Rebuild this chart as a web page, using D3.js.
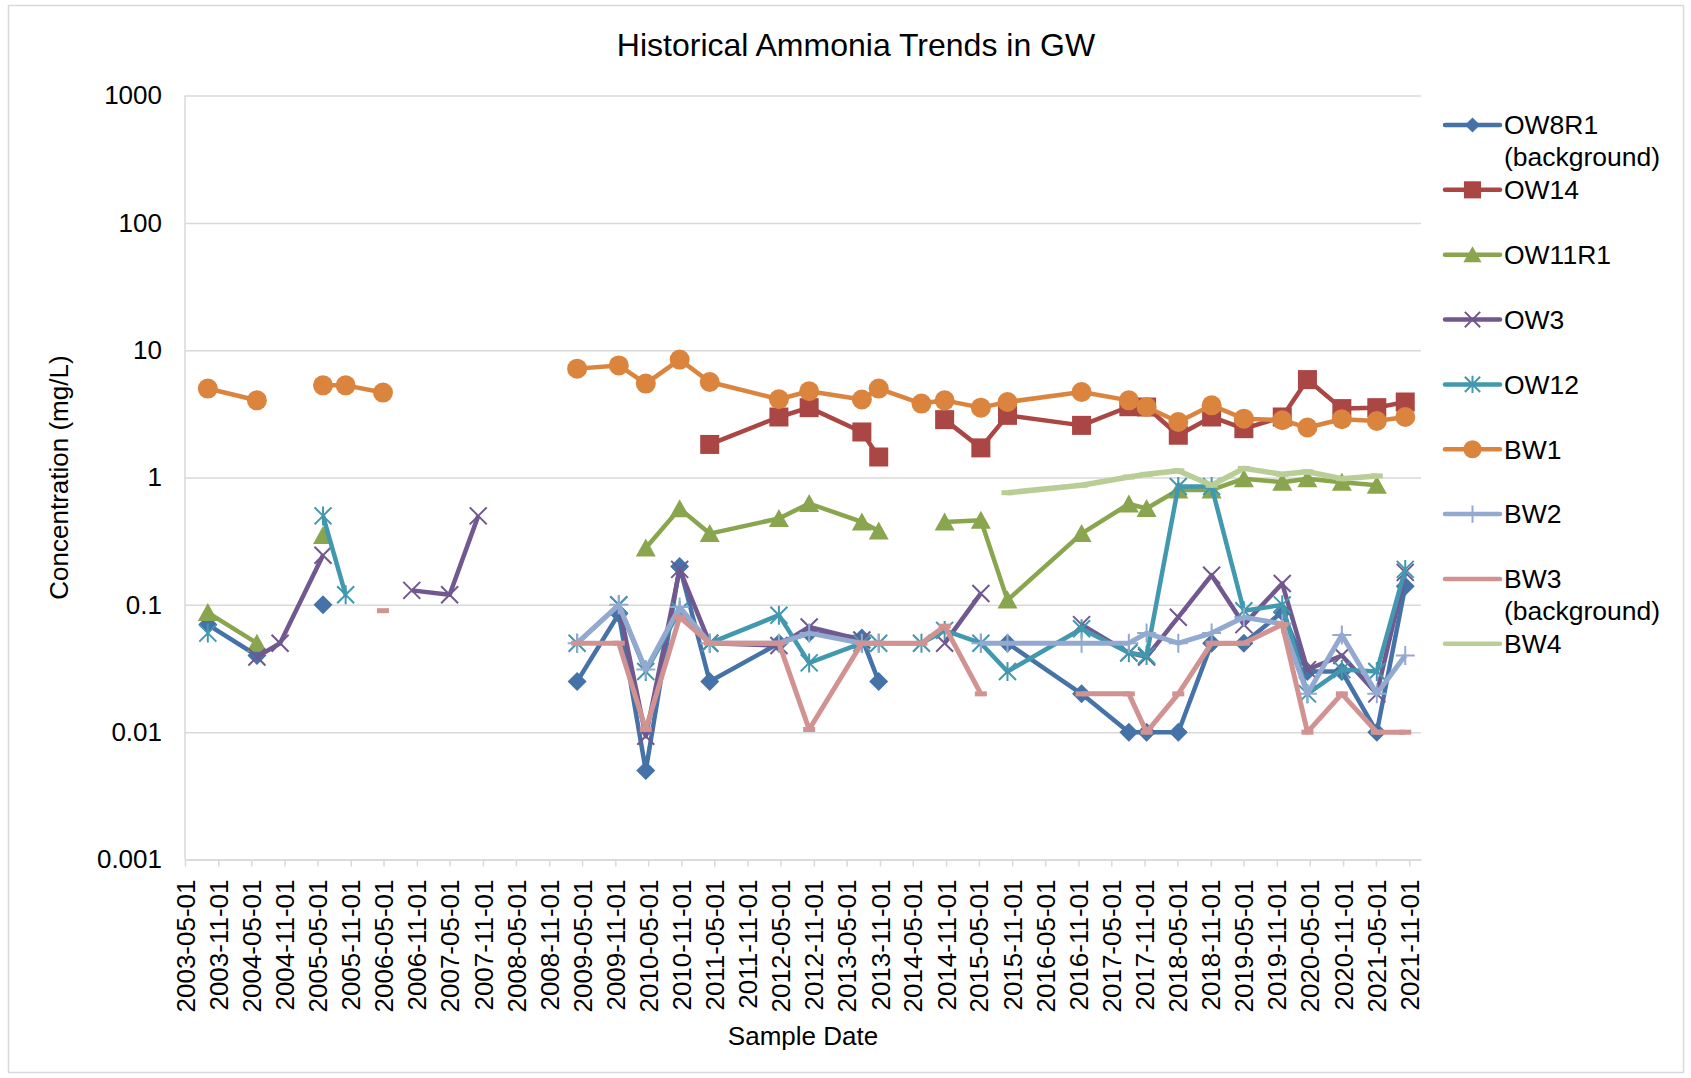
<!DOCTYPE html>
<html>
<head>
<meta charset="utf-8">
<script src="https://cdn.jsdelivr.net/npm/d3@7"></script>
<style>
  body { margin: 0; background: #fff; }
  svg { display: block; font-family: "Liberation Sans", Arial, sans-serif; }
</style>
</head>
<body>
<svg id="chart" width="1691" height="1078"></svg>
<script>
// ***** Data *****
const sampleDates = [
  "2003-09-04", "2004-06-01", "2004-10-07", "2005-06-01", "2005-10-04",
  "2006-04-28", "2006-10-04", "2007-05-01", "2007-10-06", "2009-04-04",
  "2009-11-20", "2010-04-18", "2010-10-22", "2011-04-06", "2012-04-22",
  "2012-10-06", "2013-07-24", "2013-10-25", "2014-06-18", "2014-10-24",
  "2015-05-12", "2015-10-06", "2016-11-18", "2017-08-06", "2017-11-12",
  "2018-05-06", "2018-11-06", "2019-05-03", "2019-12-01", "2020-04-18",
  "2020-10-25", "2021-05-06", "2021-10-10"
];

const ow8r1 = [0.07, 0.04, null, 0.1, null, null, null, null, null, 0.025,
  0.085, 0.005, 0.2, 0.025, 0.05, 0.06, 0.055, 0.025, null, null,
  null, 0.05, 0.02, 0.01, 0.01, 0.01, 0.05, 0.05, 0.088, 0.03,
  0.03, 0.01, 0.14];
const ow14 = [null, null, null, null, null, null, null, null, null, null,
  null, null, null, 1.82, 2.99, 3.54, 2.28, 1.45, null, 2.85,
  1.71, 3.08, 2.57, 3.6, 3.58, 2.15, 2.99, 2.42, 2.99, 5.88,
  3.48, 3.54, 3.92];
const ow11r1 = [0.087, 0.05, null, 0.35, null, null, null, null, null, null,
  null, 0.28, 0.57, 0.363, 0.477, 0.625, 0.448, 0.381, null, 0.448,
  0.462, 0.109, 0.363, 0.62, 0.571, 0.8, 0.8, 0.98, 0.92, 0.98,
  0.92, 0.87, null];
const ow3 = [null, 0.039, 0.05, 0.245, null, null, 0.13, 0.12, 0.5, null,
  0.1, 0.0093, 0.19, 0.05, 0.048, 0.067, 0.053, null, null, 0.05,
  0.123, null, 0.07, 0.042, 0.039, 0.08, 0.171, 0.07, 0.147, 0.031,
  0.04, 0.02, 0.18];
const ow12 = [0.06, null, null, 0.5, 0.12, null, null, null, null, 0.05,
  0.1, 0.03, 0.09, 0.05, 0.083, 0.035, 0.05, 0.05, 0.05, 0.063,
  0.05, 0.03, 0.065, 0.042, 0.04, 0.85, 0.85, 0.09, 0.1, 0.02,
  0.031, 0.03, 0.19];
const bw1 = [5.0, 4.04, null, 5.3, 5.3, 4.65, null, null, null, 7.17,
  7.6, 5.47, 8.44, 5.63, 4.12, 4.76, 4.1, 5.0, 3.81, 4.04,
  3.54, 3.92, 4.7, 4.04, 3.58, 2.73, 3.69, 2.9, 2.82, 2.47,
  2.87, 2.78, 2.99];
const bw2 = [null, null, null, null, null, null, null, null, null, 0.05,
  0.1, 0.031, 0.096, 0.05, 0.05, 0.06, 0.05, 0.05, null, null,
  0.05, 0.05, 0.05, 0.05, 0.06, 0.05, 0.06, 0.08, 0.071, 0.02,
  0.058, 0.02, 0.04];
const bw3 = [null, null, null, null, null, 0.09, null, null, null, 0.05,
  0.05, 0.0105, 0.08, 0.05, 0.05, 0.0105, 0.05, 0.05, 0.05, 0.068,
  0.02, null, 0.02, 0.02, 0.01, 0.02, 0.05, 0.05, 0.07, 0.01,
  0.02, 0.01, 0.01];
const bw4 = [null, null, null, null, null, null, null, null, null, null,
  null, null, null, null, null, null, null, null, null, null,
  null, 0.76, 0.87, 1.01, 1.06, 1.13, 0.87, 1.18, 1.06, 1.11,
  0.98, 1.03, null];

const seriesLabels = [
  ["OW8R1", "(background)"], ["OW14"], ["OW11R1"], ["OW3"], ["OW12"],
  ["BW1"], ["BW2"], ["BW3", "(background)"], ["BW4"]
];
const yTicks = [0.001, 0.01, 0.1, 1, 10, 100, 1000];
const xTickStart = "2003-05-01";
const xTickEnd = "2021-11-01";
const xAxisEnd = "2022-01-05";

// ***** Styles per series *****
const seriesStyle = [
  { color: "#4572A7", marker: "diamond", width: 4.5 },
  { color: "#AA4643", marker: "square", width: 4.5 },
  { color: "#89A54E", marker: "triangle", width: 4.5 },
  { color: "#71588F", marker: "x", width: 4.5 },
  { color: "#4198AF", marker: "asterisk", width: 4.5 },
  { color: "#DB843D", marker: "circle", width: 4.5 },
  { color: "#93A9CF", marker: "plus", width: 5 },
  { color: "#D19392", marker: "dash", width: 5 },
  { color: "#B9CD96", marker: "dash", width: 5.5 }
];
const seriesValues = [ow8r1, ow14, ow11r1, ow3, ow12, bw1, bw2, bw3, bw4];

// ***** Layout *****
const plotLeft = 185, plotRight = 1421, plotTop = 95.6, plotBottom = 859.5;
const parseDate = d3.utcParse("%Y-%m-%d");

const svg = d3.select("#chart");

// outer chart border
svg.append("rect")
  .attr("x", 8.5).attr("y", 5.5)
  .attr("width", 1675).attr("height", 1067)
  .attr("fill", "#fff")
  .attr("stroke", "#d9d9d9")
  .attr("stroke-width", 1.5);

const x = d3.scaleUtc()
  .domain([parseDate(xTickStart), parseDate(xAxisEnd)])
  .range([plotLeft, plotRight]);

const y = d3.scaleLog()
  .domain([yTicks[0], yTicks[yTicks.length - 1]])
  .range([plotBottom, plotTop]);

// ***** Y axis with gridlines *****
const yAxis = svg.append("g")
  .attr("transform", "translate(" + plotLeft + ",0)")
  .call(
    d3.axisLeft(y)
      .tickValues(yTicks)
      .tickFormat(d3.format("~g"))
      .tickSize(-(plotRight - plotLeft))
      .tickPadding(23)
  );
yAxis.select(".domain").remove();
yAxis.selectAll(".tick line")
  .attr("stroke", "#d9d9d9")
  .attr("stroke-width", 1.5);
yAxis.selectAll(".tick text")
  .attr("fill", "#000")
  .style("font-size", "26px");

// left axis line
svg.append("line")
  .attr("x1", plotLeft).attr("x2", plotLeft)
  .attr("y1", plotTop).attr("y2", plotBottom)
  .attr("stroke", "#d9d9d9")
  .attr("stroke-width", 1.5);

// ***** X axis *****
const xTicks = d3.utcMonth.range(parseDate(xTickStart), d3.utcDay.offset(parseDate(xTickEnd), 1), 6);
const xAxis = svg.append("g")
  .attr("transform", "translate(0," + plotBottom + ")")
  .call(
    d3.axisBottom(x)
      .tickValues(xTicks)
      .tickFormat(d3.utcFormat("%Y-%m-%d"))
      .tickSize(7)
      .tickSizeOuter(0)
  );
xAxis.select(".domain")
  .attr("stroke", "#d9d9d9")
  .attr("stroke-width", 1.5);
xAxis.selectAll(".tick line")
  .attr("stroke", "#d9d9d9")
  .attr("stroke-width", 1.5);
xAxis.selectAll(".tick text")
  .attr("fill", "#000")
  .style("font-size", "26px")
  .attr("text-anchor", "end")
  .attr("transform", "translate(0,20) rotate(-90)")
  .attr("x", 0)
  .attr("y", 0)
  .attr("dy", "0.35em");

// ***** Titles *****
svg.append("text")
  .attr("x", 856).attr("y", 56)
  .attr("text-anchor", "middle")
  .style("font-size", "32px")
  .text("Historical Ammonia Trends in GW");

svg.append("text")
  .attr("transform", "translate(59," + (plotTop + plotBottom) / 2 + ") rotate(-90)")
  .attr("text-anchor", "middle")
  .attr("dy", "0.35em")
  .style("font-size", "26px")
  .text("Concentration (mg/L)");

svg.append("text")
  .attr("x", (plotLeft + plotRight) / 2).attr("y", 1036)
  .attr("text-anchor", "middle")
  .attr("dy", "0.35em")
  .style("font-size", "26px")
  .text("Sample Date");

// ***** Markers *****
function drawMarker(g, type, color, s) {
  const r = 9.5 * s;
  if (type === "diamond") {
    g.append("path").attr("d", "M0," + -r + "L" + r + ",0L0," + r + "L" + -r + ",0Z").attr("fill", color);
  } else if (type === "square") {
    g.append("rect").attr("x", -r).attr("y", -r).attr("width", 2 * r).attr("height", 2 * r).attr("fill", color);
  } else if (type === "triangle") {
    g.append("path").attr("d", "M0," + -r + "L" + (r + 0.5) + "," + (r - 1) + "L" + -(r + 0.5) + "," + (r - 1) + "Z").attr("fill", color);
  } else if (type === "circle") {
    g.append("circle").attr("r", r + 0.5).attr("fill", color);
  } else if (type === "x" || type === "asterisk" || type === "plus") {
    const a = 8.5 * s;
    let d = "";
    if (type !== "plus") d += "M" + -a + "," + -a + "L" + a + "," + a + "M" + -a + "," + a + "L" + a + "," + -a;
    if (type !== "x") d += "M0," + -(a + 1) + "L0," + (a + 1);
    if (type === "plus") d += "M" + -(a + 1) + ",0L" + (a + 1) + ",0";
    g.append("path").attr("d", d).attr("fill", "none").attr("stroke", color).attr("stroke-width", 2);
  } else if (type === "dash") {
    g.append("rect").attr("x", -6 * s).attr("y", -2.5).attr("width", 12 * s).attr("height", 5).attr("fill", color);
  }
}

// ***** Series lines and markers *****
const dates = sampleDates.map(parseDate);
const line = d3.line()
  .defined(d => d.v != null)
  .x(d => x(d.date))
  .y(d => y(d.v));

seriesValues.forEach(function(values, i) {
  const st = seriesStyle[i];
  const pts = values.map((v, j) => ({ date: dates[j], v: v }));
  const g = svg.append("g").attr("class", "series");

  g.append("path")
    .datum(pts)
    .attr("d", line)
    .attr("fill", "none")
    .attr("stroke", st.color)
    .attr("stroke-width", st.width)
    .attr("stroke-linejoin", "round");

  g.selectAll(".marker")
    .data(pts.filter(d => d.v != null))
    .enter()
    .append("g")
    .attr("class", "marker")
    .attr("transform", d => "translate(" + x(d.date) + "," + y(d.v) + ")")
    .each(function() {
      drawMarker(d3.select(this), st.marker, st.color, 1);
    });
});

// ***** Legend *****
const legend = svg.append("g").attr("class", "legend");
seriesLabels.forEach(function(lines, i) {
  const st = seriesStyle[i];
  const ly = 125 + i * 64.85;
  const item = legend.append("g").attr("transform", "translate(0," + ly + ")");
  item.append("line")
    .attr("x1", 1445).attr("x2", 1500)
    .attr("y1", 0).attr("y2", 0)
    .attr("stroke", st.color)
    .attr("stroke-width", 4.5)
    .attr("stroke-linecap", "round");
  if (st.marker !== "dash") {
    const m = item.append("g").attr("transform", "translate(1472.5,0)");
    drawMarker(m, st.marker, st.color, st.marker === "diamond" ? 0.8 : 0.9);
  }
  const t = item.append("text")
    .attr("x", 1504)
    .attr("y", 0)
    .style("font-size", "26.5px");
  lines.forEach(function(s, k) {
    t.append("tspan")
      .attr("x", 1504)
      .attr("dy", k === 0 ? "0.35em" : "31.3")
      .text(s);
  });
});
</script>
</body>
</html>
